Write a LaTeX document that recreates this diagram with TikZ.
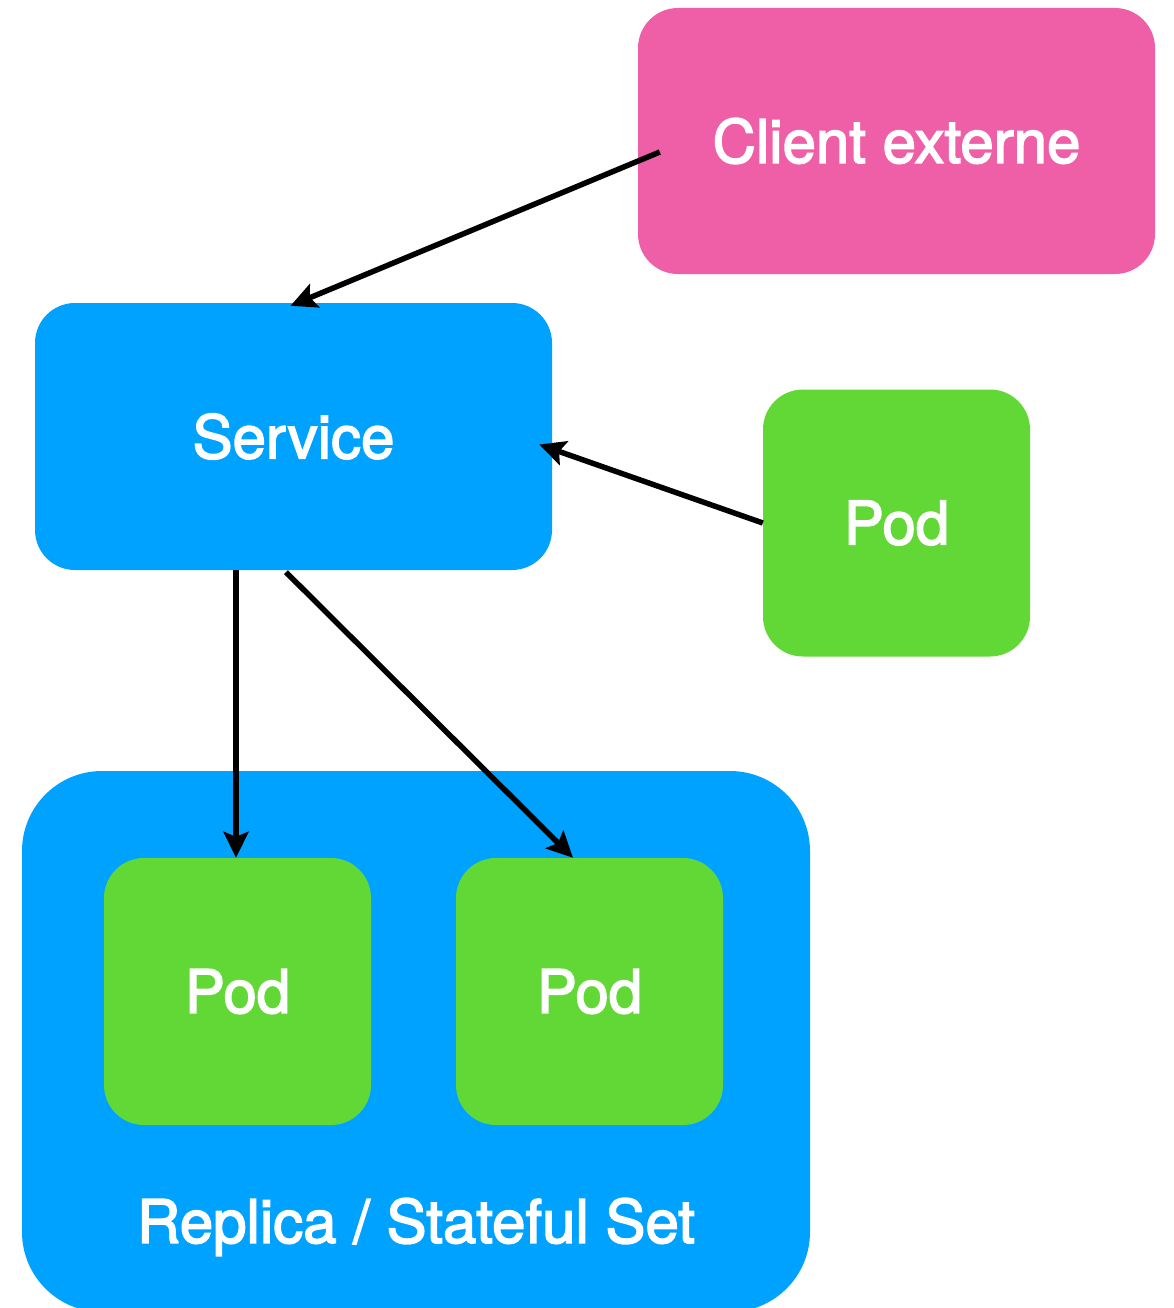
\documentclass[tikz,border=0pt]{standalone}
\usepackage{fontspec}
\setmainfont{TeX Gyre Heros}[FakeBold=2.5]
\usetikzlibrary{arrows.meta}
\definecolor{kpink}{HTML}{EF5FA7}
\definecolor{kblue}{HTML}{00A2FF}
\definecolor{kgreen}{HTML}{61D836}
\begin{document}
\begin{tikzpicture}[x=1pt,y=-1pt,
  box/.style={rounded corners=40pt, inner sep=0pt, text=white, font=\fontsize{60}{72}\selectfont},
  podbox/.style={box, fill=kgreen, minimum width=267pt, minimum height=267pt},
  conn/.style={line width=5.5pt, -{Stealth[length=26pt,width=25pt,inset=5pt]}}]
\useasboundingbox (0,0) rectangle (1173,1308);
\node[box, fill=kblue, rounded corners=80pt, minimum width=788pt, minimum height=541pt] (set) at (416,1041.5) {};
\node[text=white, font=\fontsize{60}{72}\selectfont, inner sep=0pt] (setlabel) at (416,1227) {Replica / Stateful Set};
\node[box, fill=kpink, minimum width=517pt, minimum height=266pt] (client) at (896.5,141) {Client externe};
\node[box, fill=kblue, minimum width=517pt, minimum height=267pt] (service) at (293.5,436.5) {Service};
\node[podbox] (pod3) at (896.5,523) {Pod};
\node[podbox] (pod1) at (237.5,991.5) {Pod};
\node[podbox] (pod2) at (589.5,991.5) {Pod};
\coordinate (c1) at ([xshift=22pt,yshift=-11pt]client.west);
\coordinate (s1) at ([xshift=-3pt,yshift=-3pt]service.north);
\coordinate (s2) at ([xshift=-13pt,yshift=-8pt]service.east);
\coordinate (s3) at ([xshift=-57.5pt]service.south);
\coordinate (s4) at ([xshift=-7.5pt,yshift=-2pt]service.south);
\coordinate (p1) at ([xshift=-1.5pt]pod1.north);
\coordinate (p2) at ([xshift=-16.5pt]pod2.north);
\draw[conn] (c1) -- (s1);
\draw[conn] (pod3.west) -- (s2);
\draw[conn] (s3) -- (p1);
\draw[conn] (s4) -- (p2);
\end{tikzpicture}
\end{document}
